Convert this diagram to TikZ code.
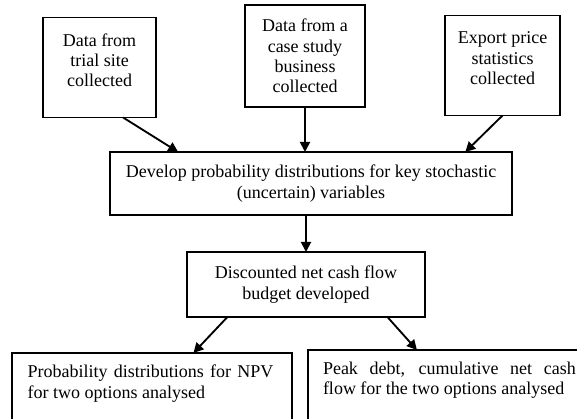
\documentclass[tikz,border=0pt]{standalone}
\usepackage{fontspec}
\setmainfont{Liberation Serif}
\usetikzlibrary{arrows.meta,positioning}

\begin{document}
\begin{tikzpicture}[
		x=0.7pt, y=0.7pt,
		every node/.style = {
			draw, rectangle,
			line width=1pt,
			font=\fontsize{12.6}{14.2}\selectfont,
			align=center,
			outer sep=0pt
			},
		srcbox/.style = {minimum width=#1, minimum height=70pt},
		resbox/.style = {anchor=north west, inner xsep=0pt, inner ysep=8.5pt},
		arr/.style = {line width=1.3pt, -{Triangle[length=7pt,width=7pt]}}
		]
		\clip (0,0) rectangle (577,419);
		
		\node [srcbox=79pt] at (99.5,351.5) (trial) {Data from\\trial site\\collected\\[-4pt]\mbox{}};
		\node [srcbox=84pt, minimum height=71.4pt] at (305,363) (case) {Data from a\\case study\\business\\collected};
		\node [srcbox=80.5pt] at (502.5,353.5) (export) {Export price\\statistics\\collected\\[-4pt]\mbox{}};
		
		\node [minimum width=281.4pt, minimum height=44.1pt] at (311,235.5) (stoch)
			{Develop probability distributions for key stochastic\\(uncertain) variables};
		\node [below=25.9pt of stoch.south, anchor=north, xshift=-3.5pt,
			minimum width=166.6pt, minimum height=45.5pt] (budget)
			{Discounted net cash flow\\budget developed};
		
		\node [resbox] at (12,66) (npv)
			{\hspace{11pt}\parbox[t][60pt][t]{172pt}{\tolerance=9999
			Probability distributions for NPV\linebreak for two options analysed}\hspace{13pt}};
		\node [resbox] at (308,69) (peak)
			{\hspace{10.5pt}\parbox[t][60pt][t]{177pt}{\tolerance=9999
			Peak debt, cumulative net cash\linebreak flow for the two options analysed}\hspace{12pt}};
		
		\draw[arr] ([xshift=16.5pt]trial.south) -- ([xshift=-93pt]stoch.north);
		\draw[arr] (case.south) -- (case.south |- stoch.north);
		\draw[arr] (export.south) -- ([xshift=108pt]stoch.north);
		\draw[arr] (budget.north |- stoch.south) -- (budget.north);
		\draw[arr] ([xshift=-55pt]budget.south) -- ([xshift=29pt]npv.north);
		\draw[arr] ([xshift=57pt]budget.south) -- ([xshift=-23.5pt]peak.north);
		
	\end{tikzpicture}
\end{document}
